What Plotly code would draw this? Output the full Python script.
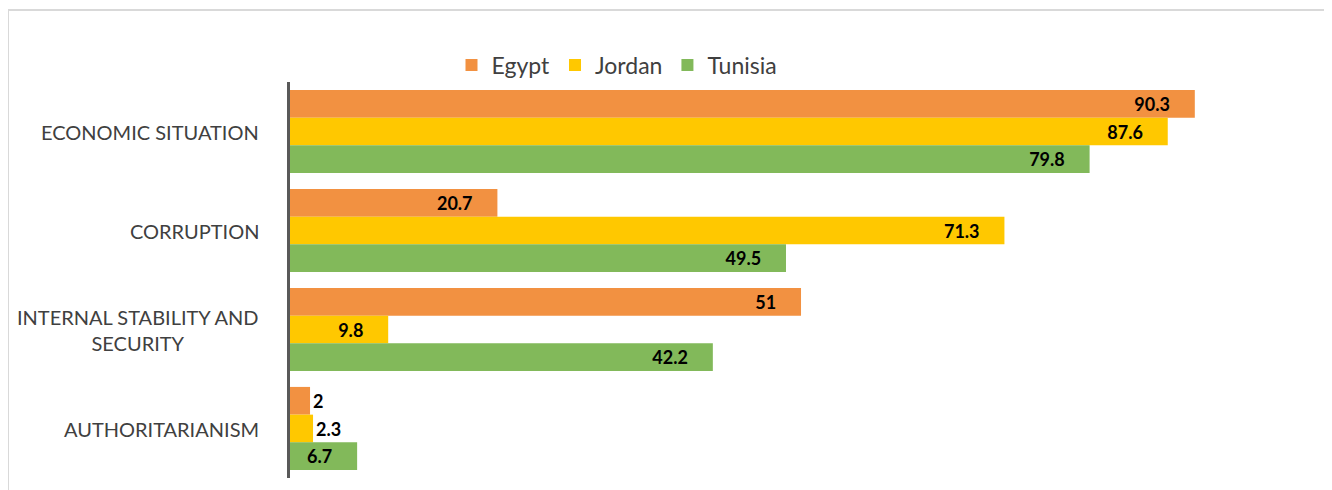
import plotly.graph_objects as go

categories = ["ECONOMIC SITUATION", "CORRUPTION", "INTERNAL STABILITY AND<br>SECURITY", "AUTHORITARIANISM"]
series_names = ["Egypt", "Jordan", "Tunisia"]
egypt = [90.3, 20.7, 51, 2]
jordan = [87.6, 71.3, 9.8, 2.3]
tunisia = [79.8, 49.5, 42.2, 6.7]
colors = ["#F29141", "#FFC800", "#82B95A"]

OFF = 8  # page offset of the figure
W, H = 1332 - OFF, 490 - OFF
L, R, T, B = 290 - OFF, 1332 - 1292, 82 - OFF, 490 - 478
pw = W - L - R
ph = H - T - B

def px_x(p):
    return (p - OFF - L) / pw

def px_y(p):
    return (H - B - (p - OFF)) / ph

PAD = "\u00a0" * 5  # inside-end padding like the original labels

fig = go.Figure()
for name, vals, col in zip(series_names, [egypt, jordan, tunisia], colors):
    inside = [v >= 5 for v in vals]
    fig.add_trace(go.Bar(
        name=name,
        y=categories,
        x=vals,
        orientation="h",
        marker=dict(color=col, line=dict(width=0)),
        text=[f"{v:g}" + (PAD if ins else "") for v, ins in zip(vals, inside)],
        textposition=["inside" if ins else "outside" for ins in inside],
        insidetextanchor="end",
        constraintext="none",
        textangle=0,
        textfont=dict(family="Lato", size=18, color="#000000", weight="bold"),
        cliponaxis=False,
        hovertemplate="%{y}: %{x}<extra>" + name + "</extra>",
    ))

annotations = []
for c in categories:
    annotations.append(dict(
        x=px_x(261), xref="paper", xanchor="right",
        y=c, yref="y", yanchor="middle",
        text=c, showarrow=False, align="center",
        font=dict(family="Lato", size=20, color="#404040"),
    ))

fig.update_layout(
    width=W, height=H,
    margin=dict(l=L, r=R, t=T, b=B),
    paper_bgcolor="white", plot_bgcolor="white",
    barmode="group", bargap=0.16, bargroupgap=0,
    uniformtext=dict(minsize=18, mode="show"),
    showlegend=True,
    legend=dict(orientation="h", x=px_x(617), xanchor="center", y=px_y(65), yanchor="middle",
                font=dict(family="Lato", size=23, color="#404040"), traceorder="normal",
                itemwidth=30),
    xaxis=dict(range=[0, 100], visible=False),
    yaxis=dict(autorange="reversed", showticklabels=False, ticks="", showgrid=False,
               showline=True, linecolor="#595959", linewidth=3, zeroline=False),
    annotations=annotations,
    shapes=[dict(type="rect", xref="paper", yref="paper",
                 x0=px_x(8), x1=px_x(1330), y0=px_y(500), y1=px_y(10),
                 line=dict(color="#D9D9D9", width=2), fillcolor="rgba(0,0,0,0)", layer="below")],
)

fig.write_html("out.html")
